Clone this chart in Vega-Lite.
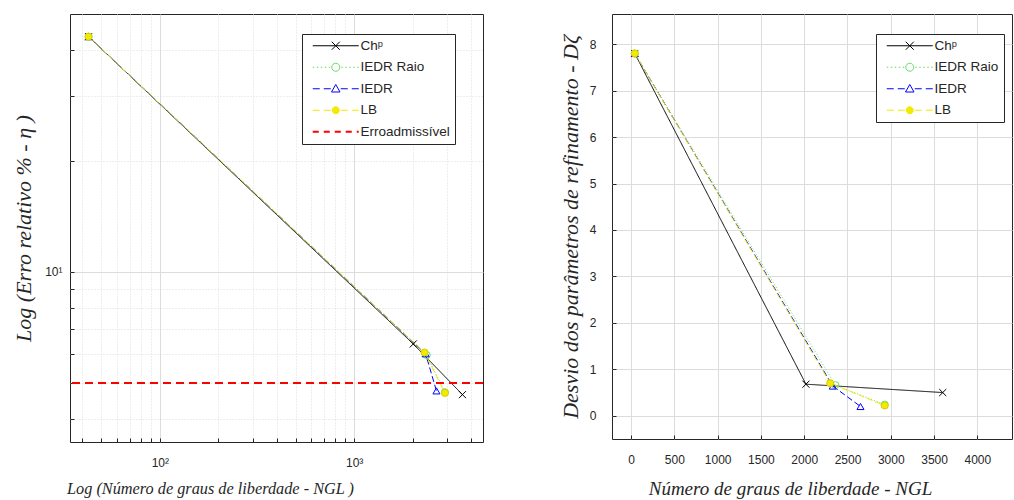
{
  "$schema": "https://vega.github.io/schema/vega-lite/v6.json",
  "background": "white",
  "padding": {"left": 12, "top": 13, "right": 0, "bottom": 0},
  "spacing": 73,
  "datasets": {
    "esq": [
      {"serie": "Chᵖ", "ngl": 43, "erro": 43.4},
      {"serie": "Chᵖ", "ngl": 2014, "erro": 6.38},
      {"serie": "Chᵖ", "ngl": 3606, "erro": 4.65},
      {"serie": "IEDR Raio", "ngl": 43, "erro": 43.4},
      {"serie": "IEDR Raio", "ngl": 2360, "erro": 5.95},
      {"serie": "IEDR Raio", "ngl": 2930, "erro": 4.72},
      {"serie": "IEDR", "ngl": 43, "erro": 43.4},
      {"serie": "IEDR", "ngl": 2330, "erro": 6.0},
      {"serie": "IEDR", "ngl": 2650, "erro": 4.76},
      {"serie": "LB", "ngl": 43, "erro": 43.4},
      {"serie": "LB", "ngl": 2300, "erro": 6.05},
      {"serie": "LB", "ngl": 2930, "erro": 4.7}
    ],
    "lim": [
      {"serie": "Erroadmissível", "erro": 5}
    ],
    "dir": [
      {"serie": "Chᵖ", "ngl": 43, "desvio": 7.8},
      {"serie": "Chᵖ", "ngl": 2020, "desvio": 0.68},
      {"serie": "Chᵖ", "ngl": 3600, "desvio": 0.5},
      {"serie": "IEDR Raio", "ngl": 43, "desvio": 7.8},
      {"serie": "IEDR Raio", "ngl": 2360, "desvio": 0.66},
      {"serie": "IEDR Raio", "ngl": 2930, "desvio": 0.24},
      {"serie": "IEDR", "ngl": 43, "desvio": 7.8},
      {"serie": "IEDR", "ngl": 2330, "desvio": 0.64},
      {"serie": "IEDR", "ngl": 2650, "desvio": 0.2},
      {"serie": "LB", "ngl": 43, "desvio": 7.8},
      {"serie": "LB", "ngl": 2300, "desvio": 0.7},
      {"serie": "LB", "ngl": 2930, "desvio": 0.22}
    ]
  },
  "config": {
    "view": {"stroke": "#262626", "strokeWidth": 1},
    "axis": {
      "domain": false,
      "labelFont": "Liberation Sans",
      "labelFontSize": 12,
      "labelColor": "#262626",
      "labelAngle": 0,
      "titleFont": "Liberation Serif",
      "titleFontStyle": "italic",
      "titleFontWeight": "normal",
      "titleColor": "#262626",
      "tickColor": "#262626",
      "tickSize": -4,
      "gridColor": "#dcdcdc",
      "gridWidth": 1
    },
    "legend": {
      "orient": "none",
      "title": null,
      "strokeColor": "#262626",
      "fillColor": "white",
      "padding": 5,
      "rowPadding": 6.5,
      "symbolSize": 100,
      "symbolOffset": 22,
      "labelOffset": 18,
      "labelFont": "Liberation Sans",
      "labelFontSize": 13.5,
      "labelColor": "#262626",
      "cornerRadius": 0
    }
  },
  "resolve": {
    "scale": {"color": "independent", "stroke": "independent", "fill": "independent", "shape": "independent"},
    "legend": {"color": "independent"}
  },
  "hconcat": [
    {
      "width": 413,
      "height": 428,
      "layer": [
        {
          "data": {"name": "esq"},
          "mark": {"type": "line", "strokeWidth": 1, "clip": true},
          "encoding": {
            "x": {
              "field": "ngl", "type": "quantitative",
              "scale": {"type": "log", "domain": [34.5, 4600], "nice": false},
              "axis": {
                "values": [40, 50, 60, 70, 80, 90, 100, 200, 300, 400, 500, 600, 700, 800, 900, 1000, 2000, 3000, 4000],
                "labelExpr": "datum.value == 100 ? '10²' : (datum.value == 1000 ? '10³' : '')",
                "labelPadding": 19,
                "gridDash": {"condition": {"test": "datum.value == 100 || datum.value == 1000", "value": []}, "value": [1, 2]},
                "title": "Log (Número de graus de liberdade - NGL )",
                "titleFontSize": 16.3,
                "titleX": 140,
                "titleY": 46,
                "titleBaseline": "middle"
              }
            },
            "y": {
              "field": "erro", "type": "quantitative",
              "scale": {"type": "log", "domain": [3.46, 50], "nice": false},
              "axis": {
                "values": [4, 5, 6, 7, 8, 9, 10, 20, 30, 40],
                "labelExpr": "datum.value == 10 ? '10¹' : ''",
                "labelPadding": 12,
                "gridDash": {"condition": {"test": "datum.value == 10", "value": []}, "value": [1, 2]},
                "title": "Log (Erro relativo % - η )",
                "titleFontSize": 22,
                "titlePadding": 9
              }
            },
            "color": {
              "field": "serie", "type": "nominal",
              "scale": {
                "domain": ["Chᵖ", "IEDR Raio", "IEDR", "LB", "Erroadmissível"],
                "range": ["#000000", "#66dd66", "#0000ff", "#f2ea00", "#ff0000"]
              },
              "legend": {
                "legendX": 232,
                "legendY": 20,
                "encode": {
                  "symbols": {
                    "update": {
                      "shape": {"signal": "datum.value == 'Chᵖ' ? 'M-4.6,0L4.6,0M-0.8,-0.8L0.8,0.8M-0.8,0.8L0.8,-0.8' : (datum.value == 'IEDR Raio' ? 'M-4.6,0L-4.3,0M-3.8,0L-3.5,0M-3,0L-2.7,0M-2.2,0L-1.9,0M-1.4,0L-1.1,0M1.1,0L1.4,0M1.9,0L2.2,0M2.7,0L3,0M3.5,0L3.8,0M4.3,0L4.6,0M0.8,0A0.8,0.8,0,1,1,-0.8,0A0.8,0.8,0,1,1,0.8,0Z' : (datum.value == 'IEDR' ? 'M-4.6,0L-3.2,0M-2.4,0L-1,0M1,0L2.4,0M3.2,0L4.6,0M0,-0.85L0.85,0.65L-0.85,0.65Z' : (datum.value == 'LB' ? 'M-4.6,0L-3.2,0M-2.4,0L-1,0M1,0L2.4,0M3.2,0L4.6,0M0.7,0A0.7,0.7,0,1,1,-0.7,0A0.7,0.7,0,1,1,0.7,0Z' : 'M-4.6,0L-3.4,0M-2.4,0L-1.2,0M-0.2,0L1,0M2,0L3.2,0M4.2,0L4.6,0')))"},
                      "fill": {"signal": "datum.value == 'LB' ? '#f2ea00' : 'transparent'"},
                      "strokeWidth": {"signal": "datum.value == 'Erroadmissível' ? 2 : 1"},
                      "opacity": {"value": 1}
                    }
                  }
                }
              }
            },
            "strokeDash": {
              "field": "serie", "type": "nominal",
              "scale": {
                "domain": ["Chᵖ", "IEDR Raio", "IEDR", "LB", "Erroadmissível"],
                "range": [[1, 0], [1, 2], [6, 3], [6, 3], [8, 5]]
              },
              "legend": null
            }
          }
        },
        {
          "data": {"name": "esq"},
          "mark": {"type": "point", "size": 50, "strokeWidth": 1, "opacity": 1, "clip": true},
          "encoding": {
            "x": {"field": "ngl", "type": "quantitative"},
            "y": {"field": "erro", "type": "quantitative"},
            "shape": {
              "field": "serie", "type": "nominal",
              "scale": {"domain": ["Chᵖ", "IEDR Raio", "IEDR", "LB"], "range": ["M-1,-1L1,1M-1,1L1,-1", "circle", "triangle-up", "circle"]},
              "legend": null
            },
            "stroke": {
              "field": "serie", "type": "nominal",
              "scale": {"domain": ["Chᵖ", "IEDR Raio", "IEDR", "LB"], "range": ["#000000", "#66dd66", "#0000ff", "#d8d000"]},
              "legend": null
            },
            "fill": {
              "field": "serie", "type": "nominal",
              "scale": {"domain": ["Chᵖ", "IEDR Raio", "IEDR", "LB"], "range": ["transparent", "transparent", "transparent", "#f2ea00"]},
              "legend": null
            }
          }
        },
        {
          "data": {"name": "lim"},
          "mark": {"type": "rule", "strokeWidth": 2, "strokeDash": [8, 5]},
          "encoding": {
            "y": {"field": "erro", "type": "quantitative"},
            "color": {"field": "serie", "type": "nominal"}
          }
        }
      ]
    },
    {
      "width": 400,
      "height": 425,
      "layer": [
        {
          "data": {"name": "dir"},
          "mark": {"type": "line", "strokeWidth": 1, "clip": true},
          "encoding": {
            "x": {
              "field": "ngl", "type": "quantitative",
              "scale": {"domain": [-220, 4400], "nice": false, "zero": false},
              "axis": {
                "values": [0, 250, 500, 750, 1000, 1250, 1500, 1750, 2000, 2250, 2500, 2750, 3000, 3250, 3500, 3750, 4000, 4250],
                "format": "d",
                "labelExpr": "datum.value % 500 == 0 ? datum.label : ''",
                "labelPadding": 19,
                "gridDash": {"condition": {"test": "datum.value % 500 == 0", "value": []}, "value": [1, 2]},
                "title": "Número de graus de liberdade - NGL",
                "titleFontSize": 19,
                "titleX": 178,
                "titleY": 49,
                "titleBaseline": "middle"
              }
            },
            "y": {
              "field": "desvio", "type": "quantitative",
              "scale": {"domain": [-0.5, 8.65], "nice": false, "zero": false},
              "axis": {
                "values": [0, 0.5, 1, 1.5, 2, 2.5, 3, 3.5, 4, 4.5, 5, 5.5, 6, 6.5, 7, 7.5, 8, 8.5],
                "labelExpr": "datum.value % 1 == 0 ? datum.label : ''",
                "labelPadding": 20,
                "gridDash": {"condition": {"test": "datum.value % 1 == 0", "value": []}, "value": [1, 2]},
                "title": "Desvio dos parâmetros de refinamento - Dζ",
                "titleFontSize": 22,
                "titlePadding": 7
              }
            },
            "color": {
              "field": "serie", "type": "nominal",
              "scale": {
                "domain": ["Chᵖ", "IEDR Raio", "IEDR", "LB", "—"],
                "range": ["#000000", "#66dd66", "#0000ff", "#f2ea00", "#ffffff"]
              },
              "legend": {
                "values": ["Chᵖ", "IEDR Raio", "IEDR", "LB"],
                "legendX": 264,
                "legendY": 20,
                "encode": {
                  "symbols": {
                    "update": {
                      "shape": {"signal": "datum.value == 'Chᵖ' ? 'M-4.6,0L4.6,0M-0.8,-0.8L0.8,0.8M-0.8,0.8L0.8,-0.8' : (datum.value == 'IEDR Raio' ? 'M-4.6,0L-4.3,0M-3.8,0L-3.5,0M-3,0L-2.7,0M-2.2,0L-1.9,0M-1.4,0L-1.1,0M1.1,0L1.4,0M1.9,0L2.2,0M2.7,0L3,0M3.5,0L3.8,0M4.3,0L4.6,0M0.8,0A0.8,0.8,0,1,1,-0.8,0A0.8,0.8,0,1,1,0.8,0Z' : (datum.value == 'IEDR' ? 'M-4.6,0L-3.2,0M-2.4,0L-1,0M1,0L2.4,0M3.2,0L4.6,0M0,-0.85L0.85,0.65L-0.85,0.65Z' : 'M-4.6,0L-3.2,0M-2.4,0L-1,0M1,0L2.4,0M3.2,0L4.6,0M0.7,0A0.7,0.7,0,1,1,-0.7,0A0.7,0.7,0,1,1,0.7,0Z'))"},
                      "fill": {"signal": "datum.value == 'LB' ? '#f2ea00' : 'transparent'"},
                      "strokeWidth": {"value": 1},
                      "opacity": {"value": 1}
                    }
                  }
                }
              }
            },
            "strokeDash": {
              "field": "serie", "type": "nominal",
              "scale": {
                "domain": ["Chᵖ", "IEDR Raio", "IEDR", "LB"],
                "range": [[1, 0], [1, 2], [6, 3], [6, 3]]
              },
              "legend": null
            }
          }
        },
        {
          "data": {"name": "dir"},
          "mark": {"type": "point", "size": 50, "strokeWidth": 1, "opacity": 1, "clip": true},
          "encoding": {
            "x": {"field": "ngl", "type": "quantitative"},
            "y": {"field": "desvio", "type": "quantitative"},
            "shape": {
              "field": "serie", "type": "nominal",
              "scale": {"domain": ["Chᵖ", "IEDR Raio", "IEDR", "LB"], "range": ["M-1,-1L1,1M-1,1L1,-1", "circle", "triangle-up", "circle"]},
              "legend": null
            },
            "stroke": {
              "field": "serie", "type": "nominal",
              "scale": {"domain": ["Chᵖ", "IEDR Raio", "IEDR", "LB"], "range": ["#000000", "#66dd66", "#0000ff", "#d8d000"]},
              "legend": null
            },
            "fill": {
              "field": "serie", "type": "nominal",
              "scale": {"domain": ["Chᵖ", "IEDR Raio", "IEDR", "LB"], "range": ["transparent", "transparent", "transparent", "#f2ea00"]},
              "legend": null
            }
          }
        }
      ]
    }
  ]
}
